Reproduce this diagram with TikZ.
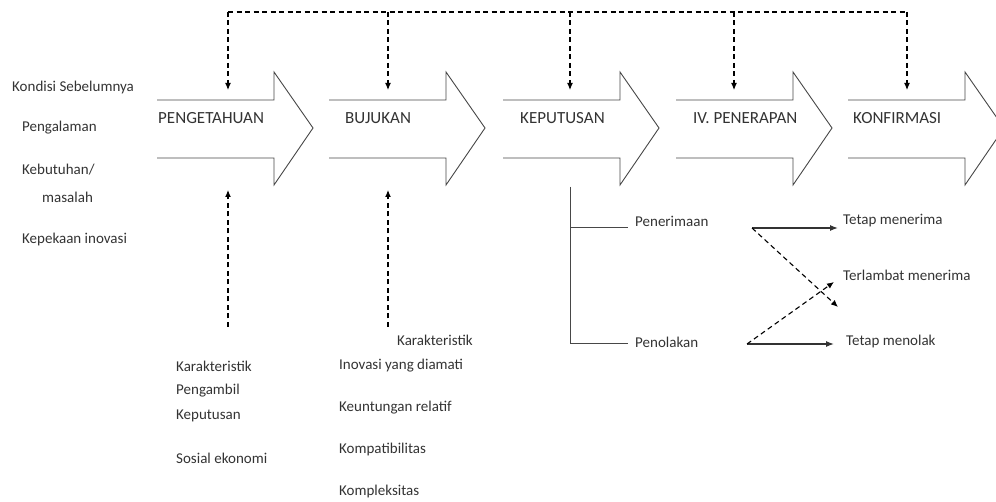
\documentclass[tikz,border=0pt]{standalone}
\usepackage{fontspec}
\setmainfont{Carlito}
\usetikzlibrary{arrows.meta}
\definecolor{ink}{HTML}{333333}
\begin{document}
\begin{tikzpicture}[x=1pt, y=-1pt,
  stagearrow/.style={draw=ink!90, line width=0.9pt, fill=white},
  stage/.style={anchor=west, inner sep=0pt, text=ink, font=\fontsize{17}{19}\selectfont},
  lbl/.style={anchor=west, inner sep=0pt, text=ink, font=\fontsize{15}{17}\selectfont},
  feed/.style={line width=1.1pt, dash pattern=on 5pt off 3.5pt, -{Latex[length=7pt,width=6pt]}},
  feedline/.style={line width=1.1pt, dash pattern=on 5pt off 3.5pt},
  solidarrow/.style={line width=1.3pt, ink, -{Latex[length=8pt,width=6pt]}},
  tree/.style={line width=1pt, ink!90}
]
  \useasboundingbox (0,0) rectangle (996,502);
  \clip (0,0) rectangle (996,502);

  % the five stage arrows (open on the left)
  \foreach \s in {157,329,503,676,848}
    \draw[stagearrow] (\s,100) -- (\s+117,100) -- (\s+117,72) -- (\s+156,128)
      -- (\s+117,185) -- (\s+117,158) -- (\s,158);

  \node[stage] (tahu) at (158,118) {PENGETAHUAN};
  \node[stage] (bujuk) at (345,118) {BUJUKAN};
  \node[stage] (putus) at (520,118) {KEPUTUSAN};
  \node[stage] (terap) at (693,118) {IV. PENERAPAN};
  \node[stage] (konfirm) at (853,118) {KONFIRMASI};

  % feedback from above
  \draw[feedline] (228,12) -- (907,12);
  \foreach \x [count=\i] in {228,388,570,734,907} {
    \coordinate (t\i) at (\x,12);
    \coordinate (d\i) at (\x,90);
    \draw[feed] (t\i) -- (d\i);
  }

  % prior conditions
  \node[lbl] (kondisi) at (12,88) {Kondisi Sebelumnya};
  \node[lbl] (alam) at (22,128) {Pengalaman};
  \node[lbl] (butuh) at (22,170) {Kebutuhan/};
  \node[lbl] (masalah) at (42,197) {masalah};
  \node[lbl] (peka) at (22,240) {Kepekaan inovasi};

  % characteristics below
  \coordinate (u1) at (228,327);
  \coordinate (v1) at (228,190);
  \coordinate (u2) at (388,327);
  \coordinate (v2) at (388,190);
  \draw[feed] (u1) -- (v1);
  \draw[feed] (u2) -- (v2);

  \node[lbl] (kar1) at (176,366) {Karakteristik};
  \node[lbl] (ambil) at (176,391) {Pengambil};
  \node[lbl] (kep) at (176,416) {Keputusan};
  \node[lbl] (sosek) at (176,458) {Sosial ekonomi};

  \node[lbl] (kar2) at (397,340) {Karakteristik};
  \node[lbl] (amati) at (339,366) {Inovasi yang diamati};
  \node[lbl] (untung) at (339,408) {Keuntungan relatif};
  \node[lbl] (kompat) at (339,450) {Kompatibilitas};
  \node[lbl] (komplek) at (339,492) {Kompleksitas};

  % decision branches
  \node[lbl] (terima) at (635,221) {Penerimaan};
  \node[lbl] (tolak) at (635,342) {Penolakan};
  \coordinate (akar) at (570,187);
  \coordinate (b1) at (628,228);
  \coordinate (b2) at (628,344);
  \draw[tree] (akar) |- (b1);
  \draw[tree] (akar) |- (b2);

  \node[lbl] (tetapA) at (843,221) {Tetap menerima};
  \node[lbl] (lambat) at (843,275) {Terlambat menerima};
  \node[lbl] (tetapB) at (846,342) {Tetap menolak};

  \coordinate (a1) at (752,228);
  \coordinate (a2) at (747,344);
  \coordinate (x1) at (838,307);
  \coordinate (x2) at (834,282);
  \draw[solidarrow] (a1) -- ([xshift=-5pt]a1 -| tetapA.west);
  \draw[solidarrow] (a2) -- ([xshift=-12pt]a2 -| tetapB.west);
  \draw[feed] (a1) -- (x1);
  \draw[feed] (a2) -- (x2);
\end{tikzpicture}
\end{document}
